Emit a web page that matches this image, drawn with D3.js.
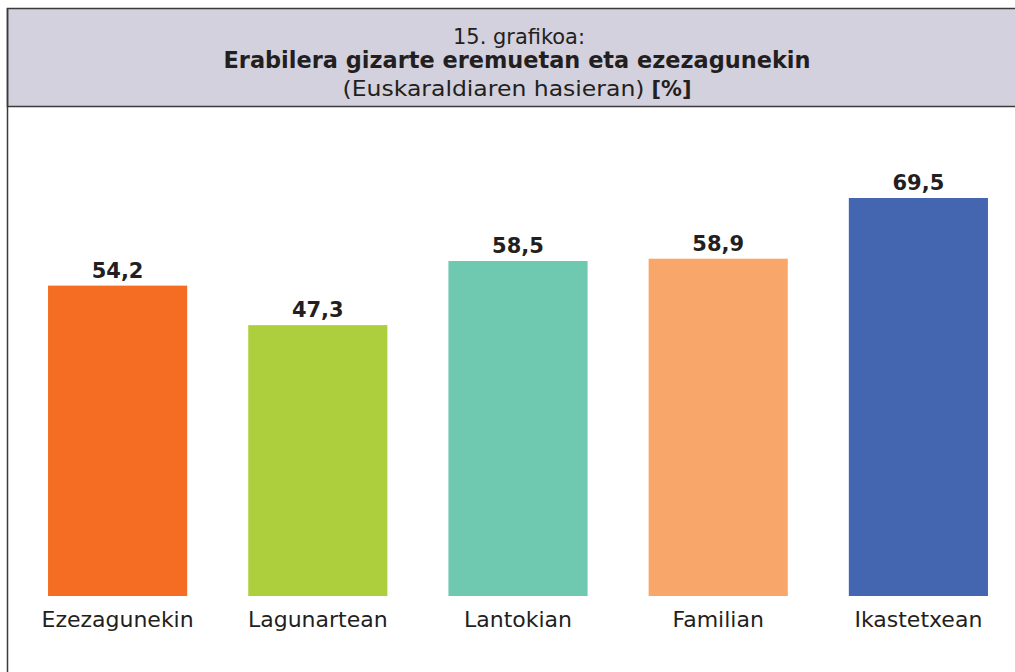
<!DOCTYPE html>
<html>
<head>
<meta charset="utf-8">
<script src="https://cdn.jsdelivr.net/npm/d3@7"></script>
<style>
  body { margin: 0; background: #fff; }
  svg { display: block; font-family: "DejaVu Sans", sans-serif; }
</style>
</head>
<body>
<div id="chart"></div>
<script>
// values
const categories = ["Ezezagunekin", "Lagunartean", "Lantokian", "Familian", "Ikastetxean"];
const values = [54.2, 47.3, 58.5, 58.9, 69.5];
const colors = ["#f46d22", "#adcf3d", "#6fc8b0", "#f8a66a", "#4465af"];

const width = 1015,
  height = 672;

const svg = d3.select("#chart")
  .append("svg")
  .attr("width", width)
  .attr("height", height);

// header box
svg.append("rect")
  .attr("x", 7.5).attr("y", 8.5)
  .attr("width", width).attr("height", 98)
  .attr("fill", "#d3d1de")
  .attr("stroke", "#3a3a3a")
  .attr("stroke-width", 1.5);

svg.append("line")
  .attr("x1", 7.5).attr("x2", 7.5)
  .attr("y1", 8).attr("y2", height)
  .attr("stroke", "#3a3a3a")
  .attr("stroke-width", 1.5);

svg.append("text")
  .attr("x", 519).attr("y", 44)
  .attr("text-anchor", "middle")
  .attr("font-size", "21px")
  .attr("textLength", 132)
  .attr("lengthAdjust", "spacingAndGlyphs")
  .attr("fill", "#231f20")
  .text("15. grafikoa:");

svg.append("text")
  .attr("x", 517).attr("y", 68)
  .attr("text-anchor", "middle")
  .attr("font-size", "22.5px")
  .attr("font-weight", "bold")
  .attr("textLength", 587)
  .attr("lengthAdjust", "spacingAndGlyphs")
  .attr("fill", "#231f20")
  .text("Erabilera gizarte eremuetan eta ezezagunekin");

const sub = svg.append("text")
  .attr("x", 517).attr("y", 96)
  .attr("text-anchor", "middle")
  .attr("font-size", "22px")
  .attr("fill", "#231f20");
sub.append("tspan")
  .attr("textLength", 302)
  .attr("lengthAdjust", "spacingAndGlyphs")
  .text("(Euskaraldiaren hasieran)");
sub.append("tspan").text(" ");
sub.append("tspan")
  .attr("font-weight", "bold")
  .attr("textLength", 40)
  .attr("lengthAdjust", "spacingAndGlyphs")
  .text("[%]");

// plot
const x = d3.scaleBand()
  .domain(categories)
  .range([18, 1018])
  .paddingInner(0.305)
  .paddingOuter(0.15);

const y = d3.scaleLinear()
  .domain([0, 69.5])
  .range([596, 198]);

svg.selectAll("rect.bar")
  .data(values)
  .enter()
  .append("rect")
  .attr("class", "bar")
  .attr("x", (d, i) => x(categories[i]))
  .attr("y", d => y(d))
  .attr("width", x.bandwidth())
  .attr("height", d => y(0) - y(d))
  .attr("fill", (d, i) => colors[i]);

svg.selectAll("text.val")
  .data(values)
  .enter()
  .append("text")
  .attr("class", "val")
  .attr("x", (d, i) => x(categories[i]) + x.bandwidth() / 2)
  .attr("y", d => y(d) - 8)
  .attr("text-anchor", "middle")
  .attr("font-size", "21px")
  .attr("font-weight", "bold")
  .attr("fill", "#231f20")
  .text(d => d3.format(".1f")(d).replace(".", ","));

svg.selectAll("text.cat")
  .data(categories)
  .enter()
  .append("text")
  .attr("class", "cat")
  .attr("x", d => x(d) + x.bandwidth() / 2)
  .attr("y", 627)
  .attr("text-anchor", "middle")
  .attr("font-size", "22px")
  .attr("fill", "#231f20")
  .text(d => d);
</script>
</body>
</html>
